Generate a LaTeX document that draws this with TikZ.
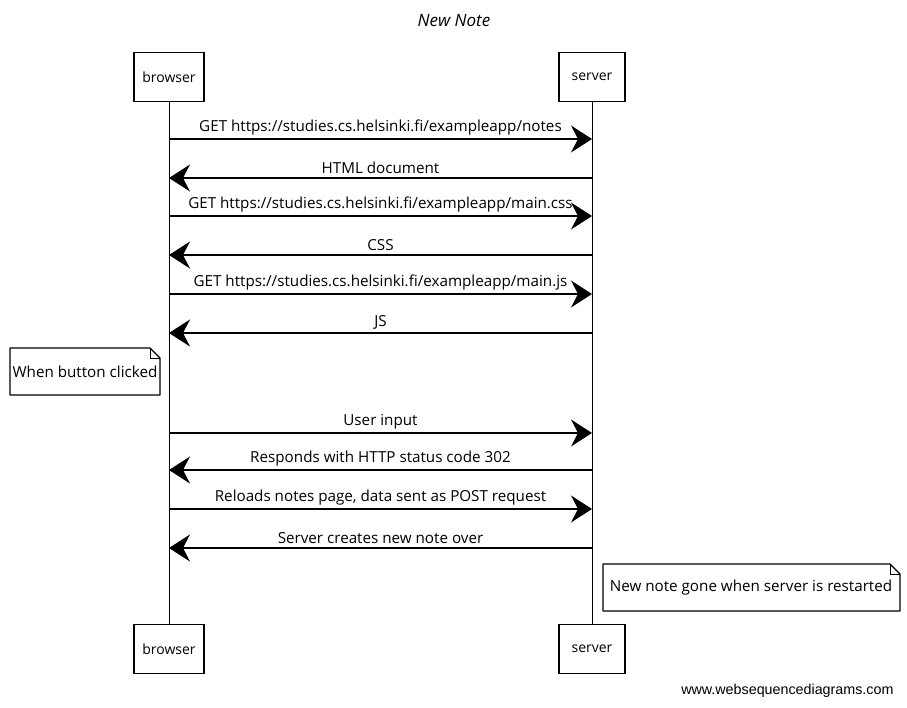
\documentclass[tikz,border=0pt]{standalone}
\usepackage{fontspec}
\setmainfont{Open Sans}
\newfontfamily\markfont{Liberation Sans}
\usetikzlibrary{arrows.meta,calc}

\tikzset{
  actor/.style={draw, line width=1.2pt, fill=white, minimum width=70pt, minimum height=49pt,
    inner sep=0pt, font=\fontsize{14pt}{16pt}\selectfont},
  lifeline/.style={line width=1pt},
  msg/.style={line width=1.2pt, -{Stealth[length=21pt,width=27pt,inset=7pt]}},
  msglabel/.style={midway, above=0pt, font=\fontsize{15.2pt}{17pt}\selectfont},
  notetext/.style={inner sep=0pt, font=\fontsize{15.2pt}{17pt}\selectfont},
  notebox/.style={line width=1.2pt, fill=white, line join=round}
}

\begin{document}
\begin{tikzpicture}[x=1pt,y=-1pt]
  \useasboundingbox (0,0) rectangle (907,707);

  % title
  \node[font=\fontsize{17pt}{19pt}\selectfont\itshape] (title) at (454,21) {New Note};

  % participants
  \node[actor] (bt) at (169,77) {browser};
  \node[actor, minimum width=66pt] (st) at (592,77) {server};
  \node[actor] (bb) at (169,649) {browser};
  \node[actor, minimum width=66pt] (sb) at (592,649) {server};

  % lifelines
  \draw[lifeline] (bt.south) -- (bb.north);
  \draw[lifeline] (st.south) -- (sb.north);

  % message end points
  \foreach \n/\y in {1/139,2/178,3/216,4/255,5/294,6/333,7/433,8/470,9/509,10/548}{
    \coordinate (b\n) at (169,\y);
    \coordinate (s\n) at (592,\y);
  }

  \draw[msg] (b1) -- (s1) node[msglabel] {GET https://studies.cs.helsinki.fi/exampleapp/notes};
  \draw[msg] (s2) -- (b2) node[msglabel] {HTML document};
  \draw[msg] (b3) -- (s3) node[msglabel] {GET https://studies.cs.helsinki.fi/exampleapp/main.css};
  \draw[msg] (s4) -- (b4) node[msglabel] {CSS};
  \draw[msg] (b5) -- (s5) node[msglabel] {GET https://studies.cs.helsinki.fi/exampleapp/main.js};
  \draw[msg] (s6) -- (b6) node[msglabel] {JS};
  \draw[msg] (b7) -- (s7) node[msglabel] {User input};
  \draw[msg] (s8) -- (b8) node[msglabel] {Responds with HTTP status code 302};
  \draw[msg] (b9) -- (s9) node[msglabel] {Reloads notes page, data sent as POST request};
  \draw[msg] (s10) -- (b10) node[msglabel] {Server creates new note over};

  % note: button clicked
  \draw[notebox] (10,348) -- (150,348) -- (160,358) -- (160,395) -- (10,395) -- cycle;
  \draw[line width=0.8pt] (150,348) -- (150,358) -- (160,358);
  \node[notetext] (n1) at (85,372) {When button clicked};

  % note: server restart
  \draw[notebox] (603,564) -- (890,564) -- (900,574) -- (900,611) -- (603,611) -- cycle;
  \draw[line width=0.8pt] (890,564) -- (890,574) -- (900,574);
  \node[notetext] (n2) at (751,588) {New note gone when server is restarted};

  % footer mark
  \node[anchor=east, font=\markfont\fontsize{14.3pt}{16pt}\selectfont] (mark) at (897,691) {www.websequencediagrams.com};
\end{tikzpicture}
\end{document}
